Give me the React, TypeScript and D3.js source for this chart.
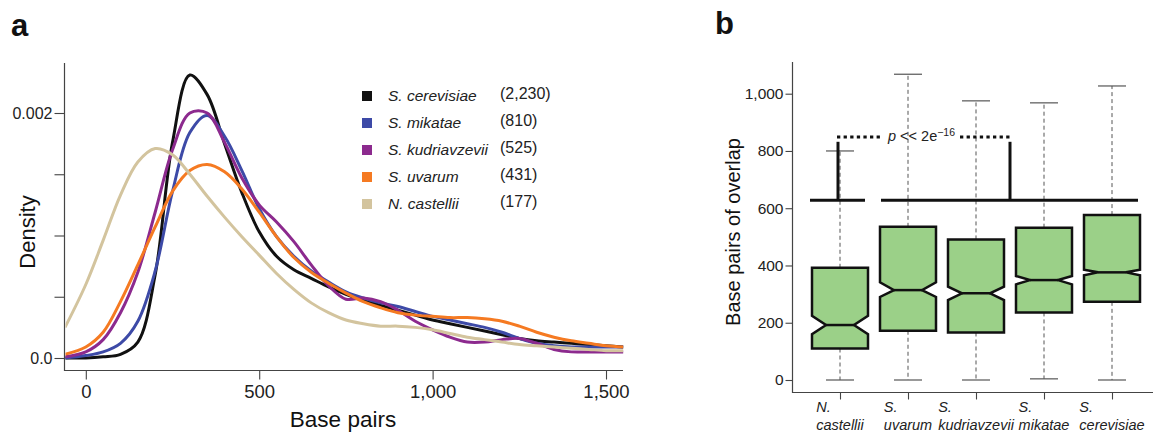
import React, { useEffect, useRef } from "react";
import * as d3 from "d3";

const W = 1158;
const H = 437;
const FONT = "'Liberation Sans', Arial, Helvetica, sans-serif";

// ---- panel a: density of overlap lengths ----
const bpGrid = [
  -60, 0, 50, 100, 150, 200, 250, 300, 350, 400, 450, 500, 550, 600, 650, 700,
  750, 800, 850, 900, 950, 1000, 1050, 1100, 1150, 1200, 1250, 1300, 1350, 1400,
  1450, 1500, 1550,
];
const species = ["S. cerevisiae", "S. mikatae", "S. kudriavzevii", "S. uvarum", "N. castellii"];
const counts = ["(2,230)", "(810)", "(525)", "(431)", "(177)"];
const colors = ["#111111", "#3d4aa7", "#8c2a8e", "#f57a22", "#d3c49e"];

const densCerevisiae = [
  0, 0, 0.00001, 0.00003, 0.00013, 0.00068, 0.00176, 0.00231, 0.00215, 0.00175,
  0.00135, 0.00103, 0.00083, 0.00072, 0.00065, 0.00058, 0.00052, 0.00047, 0.00043,
  0.00039, 0.00035, 0.00031, 0.00028, 0.00025, 0.00022, 0.00019, 0.00016, 0.00014,
  0.00013, 0.00012, 0.00011, 0.0001, 0.00009,
];
const densMikatae = [
  0, 0.00002, 0.00005, 0.00012, 0.0003, 0.00071, 0.00136, 0.00184, 0.00198, 0.00181,
  0.00153, 0.00122, 0.00099, 0.00083, 0.00071, 0.00062, 0.00054, 0.00049, 0.00045,
  0.00042, 0.00038, 0.00034, 0.00031, 0.00028, 0.00025, 0.00021, 0.00016, 0.00012,
  0.0001, 0.00009, 0.00009, 0.00009, 0.00009,
];
const densKudriavzevii = [
  0.00001, 0.00005, 0.00015, 0.00037, 0.0007, 0.00119, 0.0017, 0.002, 0.002, 0.00176,
  0.00147, 0.00125, 0.00111, 0.00095, 0.00076, 0.00059, 0.00048, 0.00049, 0.00046,
  0.00039, 0.0003, 0.00023, 0.00017, 0.00013, 0.00013, 0.00015, 0.00016, 0.00012,
  0.00007, 0.00005, 0.00005, 0.00005, 0.00005,
];
const densUvarum = [
  0.00003, 0.00009, 0.00021, 0.00046, 0.00076, 0.00107, 0.00136, 0.00153, 0.00158,
  0.00152, 0.00138, 0.00119, 0.00099, 0.00082, 0.0007, 0.00061, 0.00053, 0.00046,
  0.00041, 0.00037, 0.00035, 0.00034, 0.00033, 0.00033, 0.00032, 0.0003, 0.00026,
  0.00021, 0.00017, 0.00014, 0.00012, 0.0001, 0.00009,
];
const densCastellii = [
  0.00025, 0.0006, 0.00096, 0.00133, 0.0016, 0.00171, 0.00166, 0.0015, 0.00132,
  0.00115, 0.00099, 0.00084, 0.00069, 0.00056, 0.00045, 0.00037, 0.00031, 0.00028,
  0.00026, 0.00026, 0.00025, 0.00023, 0.0002, 0.00017, 0.00015, 0.00013, 0.00011,
  0.0001, 0.00009, 0.00008, 0.00007, 0.00006, 0.00006,
];
const densities = [densCerevisiae, densMikatae, densKudriavzevii, densUvarum, densCastellii];

const densityTicks = [0, 0.0005, 0.001, 0.0015, 0.002];
const densityLabels = ["0.0", "", "", "", "0.002"];
const bpTicks = [0, 500, 1000, 1500];

// ---- panel b: notched boxplots ----
const boxGenus = ["N.", "S.", "S.", "S.", "S."];
const boxSpecies = ["castellii", "uvarum", "kudriavzevii", "mikatae", "cerevisiae"];
const whiskLo = [0, 0, 0, 4, 0];
const q1 = [110, 172, 166, 236, 273];
const notchLo = [160, 290, 279, 334, 366];
const median = [192, 314, 303, 349, 376];
const notchHi = [224, 341, 326, 363, 385];
const q3 = [392, 535, 491, 532, 576];
const whiskHi = [800, 1068, 975, 968, 1027];
const overlapTicks = [0, 200, 400, 600, 800, 1000];

const barLevel = 628;
const bracketTop = 832;
const pLevel = 849;

export default function App() {
  const ref = useRef<SVGSVGElement>(null);

  useEffect(() => {
    const svg = d3.select(ref.current);
    svg.selectAll("*").remove();
    svg.style("font-family", FONT);

    // panel letters
    svg.append("text").attr("x", 11).attr("y", 36).text("a")
      .style("font-size", "31px").style("font-weight", "bold").attr("fill", "#111");
    svg.append("text").attr("x", 715).attr("y", 34).text("b")
      .style("font-size", "31px").style("font-weight", "bold").attr("fill", "#111");

    // ================= panel a =================
    const x = d3.scaleLinear().domain([-60, 1549]).range([65, 623]);
    const y = d3.scaleLinear().domain([0, 0.002]).range([358, 113]);
    const ga = svg.append("g");

    const yAx = ga.append("g").attr("transform", "translate(64.5,0)")
      .call(d3.axisLeft(y).tickValues(densityTicks)
        .tickFormat((_, i) => densityLabels[i]).tickSize(10).tickPadding(2));
    yAx.select(".domain").remove();
    yAx.selectAll("line").attr("stroke", "#444").attr("stroke-width", 1.1);
    yAx.selectAll("text").style("font-size", "16px").style("font-family", FONT).attr("fill", "#222");

    const xAx = ga.append("g").attr("transform", "translate(0,370.5)")
      .call(d3.axisBottom(x).tickValues(bpTicks).tickFormat(d3.format(",")).tickSize(9).tickPadding(5));
    xAx.select(".domain").remove();
    xAx.selectAll("line").attr("stroke", "#444").attr("stroke-width", 1.1);
    xAx.selectAll("text").style("font-size", "18.5px").style("font-family", FONT).attr("fill", "#222");

    ga.append("path").attr("d", "M64.5,63V370.5H623").attr("fill", "none")
      .attr("stroke", "#444").attr("stroke-width", 1.2);

    ga.append("text").attr("transform", "translate(35,232) rotate(-90)")
      .attr("text-anchor", "middle").style("font-size", "22px").attr("fill", "#111").text("Density");
    ga.append("text").attr("x", 343).attr("y", 427)
      .attr("text-anchor", "middle").style("font-size", "22.5px").attr("fill", "#111").text("Base pairs");

    svg.append("defs").append("clipPath").attr("id", "clipA")
      .append("rect").attr("x", 65.5).attr("y", 55).attr("width", 558).attr("height", 314);

    const line = d3.line<[number, number]>()
      .x((d) => x(d[0])).y((d) => y(d[1]))
      .curve(d3.curveCatmullRom.alpha(0.5));
    const curves = ga.append("g").attr("clip-path", "url(#clipA)");
    densities.forEach((dens, i) => {
      curves.append("path")
        .attr("d", line(bpGrid.map((b, j) => [b, dens[j]] as [number, number])))
        .attr("fill", "none").attr("stroke", colors[i]).attr("stroke-width", 3)
        .attr("stroke-linejoin", "round");
    });

    // legend
    const leg = ga.append("g");
    species.forEach((s, i) => {
      const cy = 96 + i * 27;
      leg.append("rect").attr("x", 362).attr("y", cy - 5).attr("width", 10).attr("height", 10)
        .attr("fill", colors[i]);
      leg.append("text").attr("x", 388).attr("y", cy + 5).text(s)
        .style("font-size", "15.5px").style("font-style", "italic").attr("fill", "#222");
      leg.append("text").attr("x", 500).attr("y", cy + 3).text(counts[i])
        .style("font-size", "16px").attr("fill", "#222");
    });

    // ================= panel b =================
    const xb = d3.scalePoint<string>().domain(boxSpecies).range([840, 1112]);
    const yb = d3.scaleLinear().domain([0, 1000]).range([380, 93.7]);
    const gb = svg.append("g");

    const ybAx = gb.append("g").attr("transform", "translate(792.5,0)")
      .call(d3.axisLeft(yb).tickValues(overlapTicks).tickFormat(d3.format(",")).tickSize(7).tickPadding(2));
    ybAx.select(".domain").remove();
    ybAx.selectAll("line").attr("stroke", "#444").attr("stroke-width", 1.1);
    ybAx.selectAll("text").style("font-size", "15.5px").style("font-family", FONT).attr("fill", "#222");

    const xbAx = gb.append("g").attr("transform", "translate(0,392.5)")
      .call(d3.axisBottom(xb).tickSize(7).tickFormat(() => ""));
    xbAx.select(".domain").remove();
    xbAx.selectAll("line").attr("stroke", "#444").attr("stroke-width", 1.1);

    gb.append("path").attr("d", "M792.5,62V392.5H1153").attr("fill", "none")
      .attr("stroke", "#444").attr("stroke-width", 1.2);

    gb.append("text").attr("transform", "translate(740,232) rotate(-90)")
      .attr("text-anchor", "middle").style("font-size", "20px").attr("fill", "#111")
      .text("Base pairs of overlap");

    // category labels: two-line, left-aligned block centred on the tick
    boxSpecies.forEach((s, i) => {
      const cx = xb(s) as number;
      const t2 = gb.append("text").attr("y", 430).text(s)
        .style("font-size", "14.5px").style("font-style", "italic").attr("fill", "#222");
      const w = (t2.node() as SVGTextElement).getComputedTextLength();
      const left = cx - w / 2;
      t2.attr("x", left);
      gb.append("text").attr("x", left).attr("y", 412).text(boxGenus[i])
        .style("font-size", "14.5px").style("font-style", "italic").attr("fill", "#222");
    });

    const half = 28;
    boxSpecies.forEach((s, i) => {
      const cx = xb(s) as number;
      // whiskers
      gb.append("line").attr("x1", cx).attr("x2", cx).attr("y1", yb(q3[i])).attr("y2", yb(whiskHi[i]))
        .attr("stroke", "#555").attr("stroke-width", 1).attr("stroke-dasharray", "4,3");
      gb.append("line").attr("x1", cx).attr("x2", cx).attr("y1", yb(q1[i])).attr("y2", yb(whiskLo[i]))
        .attr("stroke", "#555").attr("stroke-width", 1).attr("stroke-dasharray", "4,3");
      [whiskHi[i], whiskLo[i]].forEach((v) => {
        gb.append("line").attr("x1", cx - half / 2).attr("x2", cx + half / 2)
          .attr("y1", yb(v)).attr("y2", yb(v)).attr("stroke", "#555").attr("stroke-width", 1.2);
      });
      // notched box
      const L = cx - half, R = cx + half, nl = cx - half / 2, nr = cx + half / 2;
      const p = d3.path();
      p.moveTo(L, yb(q3[i]));
      p.lineTo(R, yb(q3[i]));
      p.lineTo(R, yb(notchHi[i]));
      p.lineTo(nr, yb(median[i]));
      p.lineTo(R, yb(notchLo[i]));
      p.lineTo(R, yb(q1[i]));
      p.lineTo(L, yb(q1[i]));
      p.lineTo(L, yb(notchLo[i]));
      p.lineTo(nl, yb(median[i]));
      p.lineTo(L, yb(notchHi[i]));
      p.closePath();
      gb.append("path").attr("d", p.toString()).attr("fill", "#9bd088")
        .attr("stroke", "#111").attr("stroke-width", 2.5).attr("stroke-linejoin", "miter");
      gb.append("line").attr("x1", nl).attr("x2", nr).attr("y1", yb(median[i])).attr("y2", yb(median[i]))
        .attr("stroke", "#111").attr("stroke-width", 2.5);
    });

    // significance annotation
    const c0 = xb(boxSpecies[0]) as number;
    const c1 = xb(boxSpecies[1]) as number;
    const c4 = xb(boxSpecies[4]) as number;
    const mid = (c1 + c4) / 2;
    const ann = gb.append("g").attr("stroke", "#111").attr("fill", "none");
    ann.append("line").attr("x1", c0 - 30).attr("x2", c0 + 25)
      .attr("y1", yb(barLevel)).attr("y2", yb(barLevel)).attr("stroke-width", 3);
    ann.append("line").attr("x1", c1 - 27).attr("x2", c4 + 26)
      .attr("y1", yb(barLevel)).attr("y2", yb(barLevel)).attr("stroke-width", 3);
    ann.append("line").attr("x1", c0 - 2).attr("x2", c0 - 2)
      .attr("y1", yb(barLevel)).attr("y2", yb(bracketTop)).attr("stroke-width", 3);
    ann.append("line").attr("x1", mid).attr("x2", mid)
      .attr("y1", yb(barLevel)).attr("y2", yb(bracketTop)).attr("stroke-width", 3);
    ann.append("line").attr("x1", c0 - 3).attr("x2", c0 + 41)
      .attr("y1", yb(pLevel)).attr("y2", yb(pLevel)).attr("stroke-width", 3).attr("stroke-dasharray", "3.3,3.3");
    ann.append("line").attr("x1", mid - 50).attr("x2", mid + 2)
      .attr("y1", yb(pLevel)).attr("y2", yb(pLevel)).attr("stroke-width", 3).attr("stroke-dasharray", "3.3,3.3");

    const pt = gb.append("text").attr("x", 888).attr("y", yb(pLevel) + 4)
      .style("font-size", "14.5px").attr("fill", "#222");
    pt.append("tspan").style("font-style", "italic").text("p");
    pt.append("tspan").text(" << 2e");
    pt.append("tspan").attr("dy", -5).style("font-size", "10.5px").text("\u221216");
  }, []);

  return (
    <svg
      ref={ref}
      width={W}
      height={H}
      style={{ position: "absolute", left: 0, top: 0, background: "#fff" }}
    />
  );
}
